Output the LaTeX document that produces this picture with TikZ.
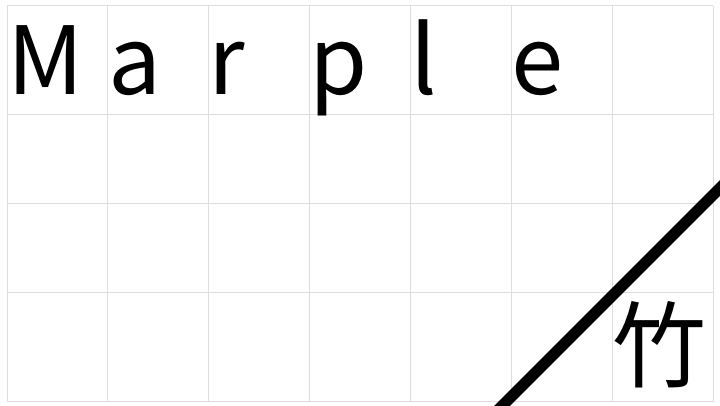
\documentclass[tikz,border=0pt]{standalone}
\usepackage{fontspec}
\setmainfont{Noto Sans CJK SC}
\definecolor{gridgray}{HTML}{DEDEDE}

\tikzset{
  cell/.style={draw=gridgray, line width=1pt},
  glyph/.style={anchor=base west, inner sep=0pt, font=\fontsize{94}{94}\selectfont},
  slash/.style={draw=black, line width=11pt}
}

\begin{document}
\begin{tikzpicture}[x=1pt,y=1pt]
  \useasboundingbox[fill=white] (0,0) rectangle (720,406);
  \clip (0,0) rectangle (720,406);
  % grid
  \foreach \x in {7,107.9,208.7,309.6,410.4,511.3,612.1,713}
      \draw[cell] (\x,4) -- (\x,400);
  \foreach \y in {4,113,202,291,400}
      \draw[cell] (7,\y) -- (713,\y);

  \node[glyph] (m) at (7,311)     {M};
  \node[glyph] (a) at (107.9,311) {a};
  \node[glyph] (r) at (208.7,311) {r};
  \node[glyph] (p) at (309.6,311) {p};
  \node[glyph] (l) at (410.4,311) {l};
  \node[glyph] (e) at (511.3,311) {e};

  \node[glyph] (zhu) at (612.1,25) {竹};

  \draw[slash] (490,-12) -- (732,230);
\end{tikzpicture}
\end{document}
